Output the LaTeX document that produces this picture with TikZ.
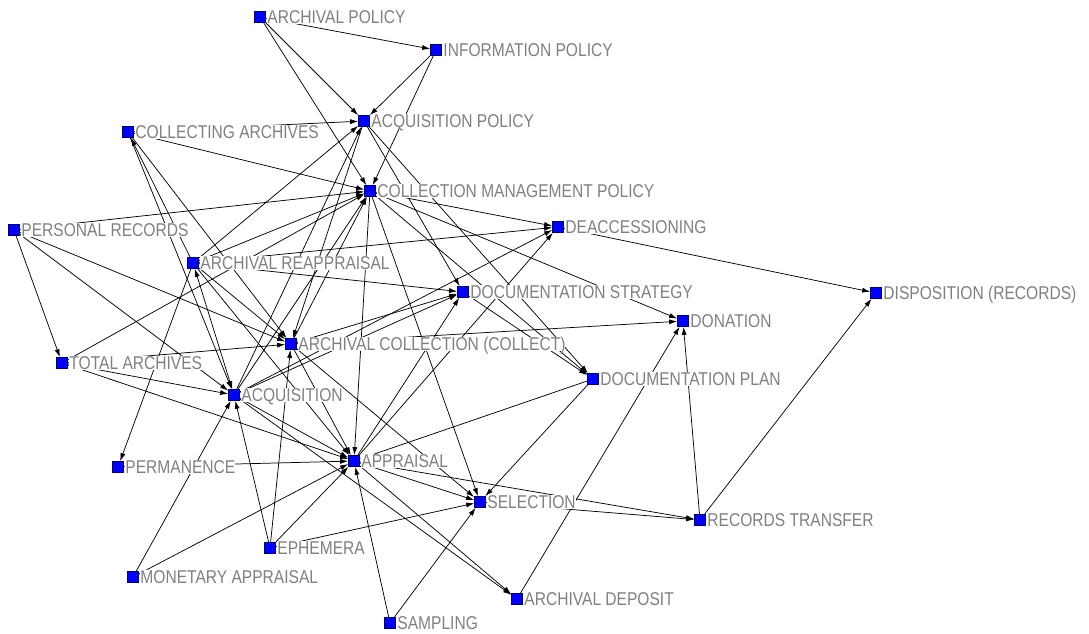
\documentclass[tikz,border=0pt]{standalone}
\usepackage{fontspec}
\setmainfont{Liberation Sans}[FakeStretch=0.84]
\usetikzlibrary{arrows.meta}
\definecolor{vblue}{RGB}{0,0,255}
\definecolor{vedge}{RGB}{0,0,110}
\definecolor{lgray}{RGB}{128,128,128}
\begin{document}
\begin{tikzpicture}[x=0.75pt,y=-0.75pt,
  vtx/.style={rectangle, draw=vedge, line width=0.4pt, fill=vblue, minimum size=8.4pt, inner sep=0pt},
  lbl/.style={anchor=west, inner sep=0pt, fill=white, text=lgray, font=\fontsize{13.9}{16}\selectfont, text height=10pt, text depth=0pt, xshift=1pt},
  e/.style={draw=black, line width=0.55pt, -{Latex[length=6pt,width=3.8pt]}},
  ee/.style={draw=black, line width=0.55pt, {Latex[length=6pt,width=3.8pt]}-{Latex[length=6pt,width=3.8pt]}}]
\fill[white] (0,0) rectangle (1089,633);
\useasboundingbox (0,0) rectangle (1089,633);
% vertices
\node[vtx] (ap)    at (260,17)  {};
\node[vtx] (ip)    at (436,50)  {};
\node[vtx] (aqp)   at (364,121) {};
\node[vtx] (ca)    at (128,132) {};
\node[vtx] (cmp)   at (370,191) {};
\node[vtx] (deacc) at (558,227) {};
\node[vtx] (pr)    at (14,230)  {};
\node[vtx] (rea)   at (193,263) {};
\node[vtx] (ds)    at (463,292) {};
\node[vtx] (disp)  at (876,293) {};
\node[vtx] (don)   at (683,321) {};
\node[vtx] (ac)    at (291,344) {};
\node[vtx] (ta)    at (62,363)  {};
\node[vtx] (dp)    at (593,379) {};
\node[vtx] (acq)   at (234,395) {};
\node[vtx] (app)   at (354,461) {};
\node[vtx] (perm)  at (118,467) {};
\node[vtx] (sel)   at (480,502) {};
\node[vtx] (rt)    at (700,520) {};
\node[vtx] (eph)   at (270,548) {};
\node[vtx] (ma)    at (133,577) {};
\node[vtx] (ad)    at (517,599) {};
\node[vtx] (samp)  at (390,623) {};
% edges
\draw[e] (ap) -- (ip);
\draw[e] (ap) -- (aqp);
\draw[e] (ap) -- (cmp);
\draw[e] (ip) -- (aqp);
\draw[e] (ip) -- (cmp);
\draw[e] (ca) -- (aqp);
\draw[e] (ca) -- (cmp);
\draw[e] (ca) -- (acq);
\draw[e] (ca) -- (ac);
\draw[e] (rea) -- (ca);
\draw[e] (pr) -- (cmp);
\draw[e] (pr) -- (ta);
\draw[e] (pr) -- (acq);
\draw[e] (pr) -- (ac);
\draw[e] (ta) -- (cmp);
\draw[e] (ta) -- (ac);
\draw[e] (ta) -- (acq);
\draw[e] (ta) -- (app);
\draw[e] (rea) -- (aqp);
\draw[e] (rea) -- (cmp);
\draw[e] (rea) -- (deacc);
\draw[e] (rea) -- (ds);
\draw[e] (rea) -- (ac);
\draw[e] (rea) -- (app);
\draw[e] (rea) -- (perm);
\draw[ee] (rea) -- (acq);
\draw[e] (acq) -- (aqp);
\draw[e] (acq) -- (cmp);
\draw[e] (acq) -- (deacc);
\draw[e] (acq) -- (ds);
\draw[e] (acq) -- (app);
\draw[e] (acq) -- (ad);
\draw[e] (aqp) -- (ac);
\draw[e] (ac) -- (cmp);
\draw[e] (ac) -- (ds);
\draw[e] (ac) -- (don);
\draw[e] (ac) -- (app);
\draw[e] (ac) -- (sel);
\draw[e] (cmp) -- (deacc);
\draw[e] (cmp) -- (don);
\draw[e] (cmp) -- (dp);
\draw[e] (cmp) -- (app);
\draw[e] (cmp) -- (sel);
\draw[e] (aqp) -- (ds);
\draw[e] (aqp) -- (dp);
\draw[e] (ds) -- (dp);
\draw[e] (deacc) -- (disp);
\draw[e] (rt) -- (disp);
\draw[e] (rt) -- (don);
\draw[e] (ad) -- (don);
\draw[e] (app) -- (deacc);
\draw[e] (app) -- (ds);
\draw[e] (app) -- (sel);
\draw[e] (app) -- (rt);
\draw[e] (app) -- (ad);
\draw[e] (dp) -- (app);
\draw[e] (dp) -- (sel);
\draw[e] (sel) -- (rt);
\draw[e] (eph) -- (acq);
\draw[e] (eph) -- (ac);
\draw[e] (eph) -- (app);
\draw[e] (eph) -- (sel);
\draw[e] (ma) -- (acq);
\draw[e] (ma) -- (app);
\draw[e] (perm) -- (app);
\draw[e] (samp) -- (app);
\draw[e] (samp) -- (sel);
% labels
\node[lbl] (ap-l)    at (ap.east)    {ARCHIVAL POLICY};
\node[lbl] (ip-l)    at (ip.east)    {INFORMATION POLICY};
\node[lbl] (aqp-l)   at (aqp.east)   {ACQUISITION POLICY};
\node[lbl] (ca-l)    at (ca.east)    {COLLECTING ARCHIVES};
\node[lbl] (cmp-l)   at (cmp.east)   {COLLECTION MANAGEMENT POLICY};
\node[lbl] (deacc-l) at (deacc.east) {DEACCESSIONING};
\node[lbl] (pr-l)    at (pr.east)    {PERSONAL RECORDS};
\node[lbl] (rea-l)   at (rea.east)   {ARCHIVAL REAPPRAISAL};
\node[lbl] (ds-l)    at (ds.east)    {DOCUMENTATION STRATEGY};
\node[lbl] (disp-l)  at (disp.east)  {DISPOSITION (RECORDS)};
\node[lbl] (don-l)   at (don.east)   {DONATION};
\node[lbl] (ac-l)    at (ac.east)    {ARCHIVAL COLLECTION (COLLECT)};
\node[lbl] (ta-l)    at (ta.east)    {TOTAL ARCHIVES};
\node[lbl] (dp-l)    at (dp.east)    {DOCUMENTATION PLAN};
\node[lbl] (acq-l)   at (acq.east)   {ACQUISITION};
\node[lbl] (app-l)   at (app.east)   {APPRAISAL};
\node[lbl] (perm-l)  at (perm.east)  {PERMANENCE};
\node[lbl] (sel-l)   at (sel.east)   {SELECTION};
\node[lbl] (rt-l)    at (rt.east)    {RECORDS TRANSFER};
\node[lbl] (eph-l)   at (eph.east)   {EPHEMERA};
\node[lbl] (ma-l)    at (ma.east)    {MONETARY APPRAISAL};
\node[lbl] (ad-l)    at (ad.east)    {ARCHIVAL DEPOSIT};
\node[lbl] (samp-l)  at (samp.east)  {SAMPLING};
\end{tikzpicture}
\end{document}
